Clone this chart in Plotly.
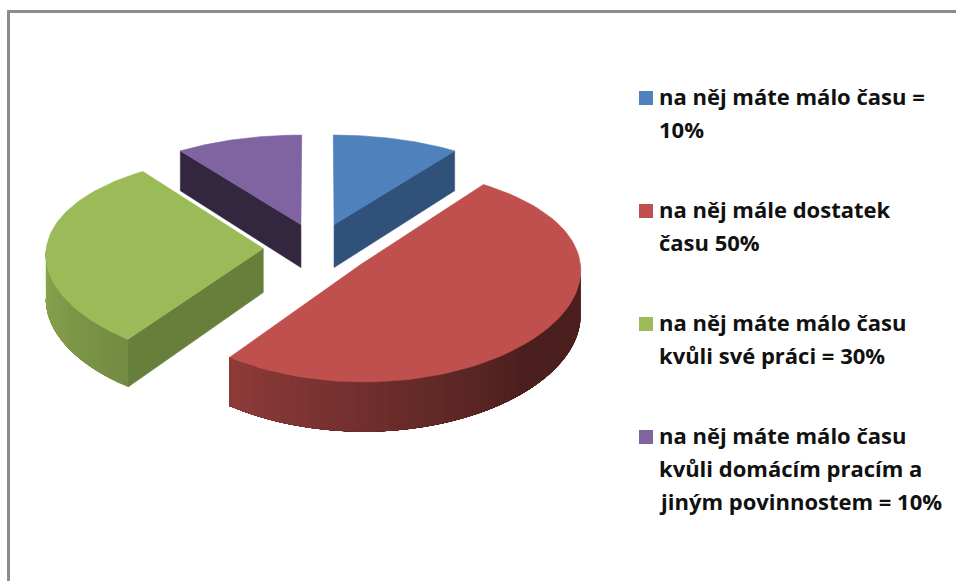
import numpy as np
import plotly.graph_objects as go

# shares clockwise from 12 o'clock
shares = [10, 50, 30, 10]
top_colors = ["#4F81BD", "#C0504D", "#9BBB59", "#8064A2"]
flat_colors = ["#30527A", "#000000", "#677F3A", "#33263F"]
legend_lines = [
    ["na něj máte málo času =", "10%"],
    ["na něj mále dostatek", "času 50%"],
    ["na něj máte málo času", "kvůli své práci = 30%"],
    ["na něj máte málo času", "kvůli domácím pracím a", "jiným povinnostem = 10%"],
]

# painter's order, back slices first
draw_order = [3, 0, 2, 1]

CX, CY = 317.5, 248.5  # pie centre, px
RX, RY = 217, 103
DEPTH = 44
PERSP_X, PERSP_Y = 0.05, 0.1
EXPLODE = 0.25


def project(x, y, z=0):
    sx = 1 / (1 + PERSP_X * y)
    sy = 1 / (1 + PERSP_Y * y)
    return CX + RX * x * sx, CY - RY * y * sy + DEPTH * z * sy


def shade(color, factor):
    rgb = [int(color[i:i + 2], 16) for i in (1, 3, 5)]
    return "rgb({},{},{})".format(*[round(c * factor) for c in rgb])


def poly(fig, xs, ys, color, width=0.6):
    fig.add_trace(
        go.Scatter(
            x=list(xs) + [xs[0]],
            y=list(ys) + [ys[0]],
            mode="lines",
            fill="toself",
            fillcolor=color,
            line=dict(color=color, width=width),
            hoverinfo="skip",
            showlegend=False,
        )
    )


def rim(a, ox, oy):
    return ox + np.sin(a), oy + np.cos(a)


fig = go.Figure()

edges = np.radians(np.cumsum([0] + shares) * 3.6)
for i in draw_order:
    a0, a1 = edges[i], edges[i + 1]
    mid = (a0 + a1) / 2
    ox, oy = EXPLODE * np.sin(mid), EXPLODE * np.cos(mid)

    # straight side walls, only the ones facing the viewer
    for a, facing in ((a0, np.sin(a0) < -1e-6), (a1, np.sin(a1) > 1e-6)):
        if facing:
            rx, ry = rim(a, ox, oy)
            p = [project(ox, oy, 0), project(rx, ry, 0), project(rx, ry, 1), project(ox, oy, 1)]
            poly(fig, [q[0] for q in p], [q[1] for q in p], flat_colors[i])

    # outer wall, strips for the gradient; each one runs under the next to hide seams
    lo, hi = max(a0, np.pi / 2), min(a1, 3 * np.pi / 2)
    if hi > lo:
        steps = np.linspace(lo, hi, int(np.degrees(hi - lo) / 2.5) + 2)
        for s0, s1 in zip(steps[:-1], steps[1:]):
            f = np.interp(np.degrees((s0 + s1) / 2), [135, 216, 270], [0.39, 0.74, 0.9])
            p = [project(*rim(t, ox, oy), 0) for t in np.linspace(s0, hi, 30)]
            p += [project(*rim(t, ox, oy), 1) for t in np.linspace(hi, s0, 30)]
            poly(fig, [q[0] for q in p], [q[1] for q in p], shade(top_colors[i], f), width=0)

    # top face
    arc = np.linspace(a0, a1, 80)
    tx, ty = project(np.r_[ox, ox + np.sin(arc)], np.r_[oy, oy + np.cos(arc)])
    poly(fig, tx, ty, top_colors[i])

# legend, drawn by hand because of the wide gaps
annotations = []
legend_y = [98, 211, 324, 437]
fig.add_trace(
    go.Scatter(
        x=[646] * 4,
        y=legend_y,
        mode="markers",
        marker=dict(symbol="square", size=14, color=top_colors),
        hoverinfo="skip",
        showlegend=False,
    )
)
for lines, y0 in zip(legend_lines, legend_y):
    for n, line in enumerate(lines):
        annotations.append(
            dict(
                x=657,
                y=y0 - 2 + 33 * n,
                xref="x",
                yref="y",
                xanchor="left",
                yanchor="middle",
                showarrow=False,
                text="<b>" + line + "</b>",
                font=dict(family="Open Sans", size=22, color="#111111"),
            )
        )

# frame only shows on the left and top
frame = dict(color="#8C8C8C", width=3)
shapes = [
    dict(type="line", x0=8.5, x1=8.5, y0=11, y1=581, xref="x", yref="y", line=frame),
    dict(type="line", x0=7, x1=956, y0=11.5, y1=11.5, xref="x", yref="y", line=frame),
]

fig.update_layout(
    width=956,
    height=581,
    margin=dict(l=0, r=0, t=0, b=0),
    paper_bgcolor="white",
    plot_bgcolor="white",
    xaxis=dict(range=[0, 956], visible=False, fixedrange=True),
    yaxis=dict(range=[581, 0], visible=False, fixedrange=True),
    annotations=annotations,
    shapes=shapes,
    showlegend=False,
)

# page body has a default margin that would push the chart off by 8px
fig.write_html(
    "out.html",
    config={"displayModeBar": False},
    post_script="document.body.style.margin='0';document.body.style.overflow='hidden';",
)
